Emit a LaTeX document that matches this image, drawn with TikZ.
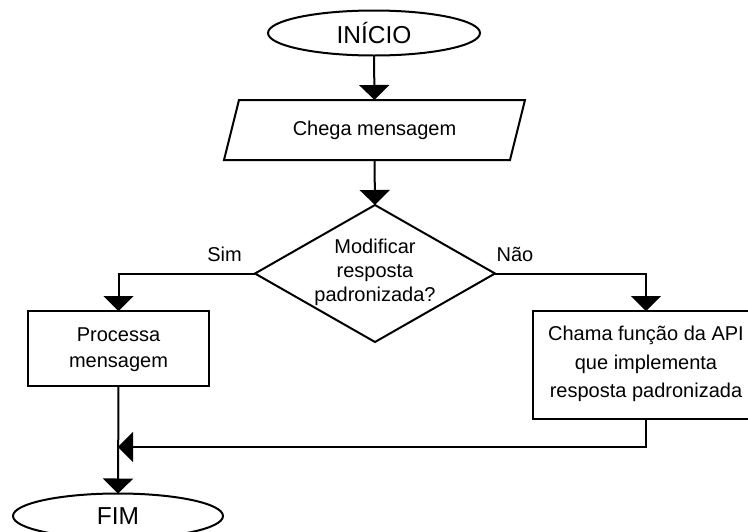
\documentclass[tikz,border=0pt]{standalone}
\usepackage{fontspec}
\setmainfont{Liberation Sans}
\usetikzlibrary{shapes.geometric,arrows.meta}

\begin{document}
\begin{tikzpicture}[x=1pt,y=-1pt,
  line width=2pt,
  every node/.style={inner sep=0pt,outer sep=0pt,font=\fontsize{20}{26}\selectfont},
  terminal/.style={draw,ellipse,minimum width=212pt,minimum height=45pt},
  iobox/.style={rectangle,minimum width=286pt,minimum height=60pt},
  decision/.style={draw,diamond,minimum width=240pt,minimum height=137pt},
  process/.style={draw,rectangle,align=center},
  flow/.style={-{Triangle[length=15pt,width=30pt]}},
  branch/.style={font=\fontsize{20}{24}\selectfont}]

\useasboundingbox (0,0) rectangle (748,531);

% start and input
\node[terminal] (inicio) at (374,33) {\fontsize{24.5}{28}\selectfont INÍCIO};
\node[iobox] (chega) at (374.5,130) {Chega mensagem};
\draw ([xshift=7.5pt]chega.north west) -- ([xshift=7.5pt]chega.north east)
  -- ([xshift=-7.5pt]chega.south east) -- ([xshift=-7.5pt]chega.south west) -- cycle;

% decision
\node[decision] (dec) at (375,273.5) {};
\node[align=center,font=\fontsize{20}{24}\selectfont] (dectxt) at (375,272)
  {Modificar\\resposta\\padronizada?};

% branches
\node[process,minimum width=181pt,minimum height=75pt] (proc) at (118.5,348.5) {};
\node[align=center,font=\fontsize{20}{26}\selectfont] (proctxt) at (118.5,350) {Processa\\mensagem};

\node[process,minimum width=226pt,minimum height=108pt] (api) at (646,365) {};
\node[align=center,font=\fontsize{20}{28.5}\selectfont] (apitxt) at (646,364)
  {Chama função da API\\que implementa\\resposta padronizada};

% end
\node[terminal,minimum width=210pt] (fim) at (118,516) {\fontsize{24.5}{28}\selectfont FIM};
\coordinate (join) at (118,447);

% connectors
\draw[flow] (inicio.south) -- (chega.north);
\draw[flow] (chega.south) -- (dec.north);
\draw[flow] (dec.west) -| (proc.north);
\draw[flow] (dec.east) -| (api.north);
\draw[flow] (proc.south) -- (fim.north);
\draw[flow] (api.south) |- (join);

% branch labels
\node[branch] (sim) at (224.5,254) {Sim};
\node[branch] (nao) at (515,254) {Não};
\end{tikzpicture}
\end{document}
